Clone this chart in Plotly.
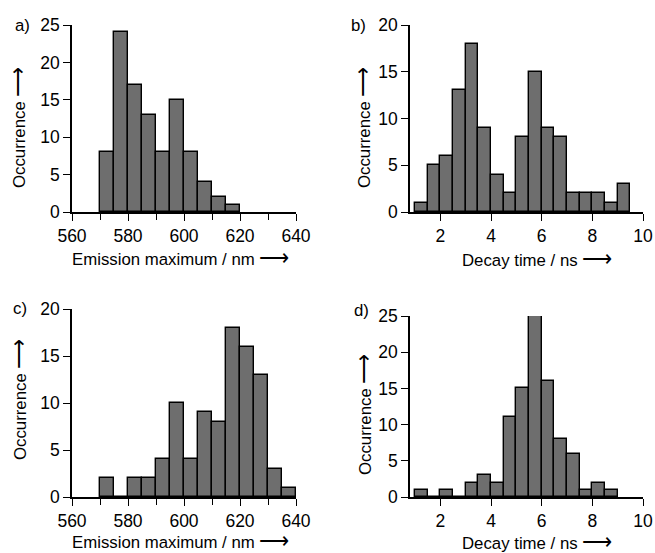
import plotly.graph_objects as go

# ---------------- data ----------------
# Panel a: emission maximum histogram (5 nm bins, centers)
a_centers = [572.5, 577.5, 582.5, 587.5, 592.5, 597.5, 602.5, 607.5, 612.5, 617.5]
a_counts = [8, 24, 17, 13, 8, 15, 8, 4, 2, 1]

# Panel b: decay time histogram (0.5 ns bins, centers)
b_centers = [1.25, 1.75, 2.25, 2.75, 3.25, 3.75, 4.25, 4.75, 5.25, 5.75,
             6.25, 6.75, 7.25, 7.75, 8.25, 8.75, 9.25]
b_counts = [1, 5, 6, 13, 18, 9, 4, 2, 8, 15, 9, 8, 2, 2, 2, 1, 3]

# Panel c: emission maximum histogram
c_centers = [572.5, 577.5, 582.5, 587.5, 592.5, 597.5, 602.5, 607.5, 612.5,
             617.5, 622.5, 627.5, 632.5, 637.5]
c_counts = [2, 0, 2, 2, 4, 10, 4, 9, 8, 18, 16, 13, 3, 1]

# Panel d: decay time histogram
d_centers = [1.25, 1.75, 2.25, 2.75, 3.25, 3.75, 4.25, 4.75, 5.25, 5.75,
             6.25, 6.75, 7.25, 7.75, 8.25, 8.75]
d_counts = [1, 0, 1, 0, 2, 3, 2, 11, 15, 26, 16, 8, 6, 1, 2, 1]

emission_ticks = [560, 580, 600, 620, 640]
emission_minor = [570, 590, 610, 630]
decay_ticks = [2, 4, 6, 8, 10]

panel_labels = ["a)", "b)", "c)", "d)"]
ARROW = "<span style='font-size:21px'>⟶</span>"
x_title_emission = "Emission maximum / nm " + ARROW
x_title_decay = "Decay time / ns " + ARROW
y_title = "Occurrence " + ARROW

# ---------------- layout helpers ----------------
W, H = 655, 553
FONT = "Liberation Sans, Arial, Helvetica, sans-serif"
BAR_COLOR = "#6e6e6e"
TICK_SIZE = 17.5
TITLE_SIZE = 16.8


def px_x(p):
    return p / W


def px_y(p):
    return 1 - p / H


fig = go.Figure()

panels = [
    (a_centers, a_counts, 5, [560, 640], [0, 25], 5, (72, 296), (25, 212), "emis"),
    (b_centers, b_counts, 0.5, [0.8, 10], [0, 20], 5, (410, 643), (25, 212), "decay"),
    (c_centers, c_counts, 5, [560, 640], [0, 20], 5, (72, 296), (309, 497), "emis"),
    (d_centers, d_counts, 0.5, [0.8, 10], [0, 25], 5, (410, 643), (316, 497), "decay"),
]

for i, (cx, cy, bw, xr, yr, ystep, (x0, x1), (y0, y1), kind) in enumerate(panels):
    n = "" if i == 0 else str(i + 1)
    fig.add_trace(go.Bar(
        x=cx, y=cy, width=bw,
        marker=dict(color=BAR_COLOR, line=dict(color="black", width=1.4)),
        xaxis="x" + n, yaxis="y" + n, showlegend=False,
    ))
    xa = dict(
        domain=[px_x(x0), px_x(x1)], range=xr, anchor="y" + n,
        showline=True, linecolor="black", linewidth=1.6,
        ticks="outside", ticklen=7, tickwidth=1.4, tickcolor="black",
        showgrid=False, zeroline=False, automargin=False,
        tickfont=dict(family=FONT, size=TICK_SIZE, color="black"),
        fixedrange=True,
    )
    if kind == "emis":
        xa.update(tickvals=emission_ticks,
                  minor=dict(tickvals=emission_minor, ticks="outside",
                             ticklen=6, tickwidth=1.4, tickcolor="black"))
    else:
        xa.update(tickvals=decay_ticks)
    ya = dict(
        domain=[px_y(y1), px_y(y0)], range=yr, anchor="x" + n,
        showline=True, linecolor="black", linewidth=1.6,
        ticks="outside", ticklen=7, tickwidth=1.4, tickcolor="black",
        showgrid=False, zeroline=False, dtick=ystep, tick0=0, automargin=False,
        tickfont=dict(family=FONT, size=TICK_SIZE, color="black"),
        fixedrange=True,
    )
    fig.update_layout(**{"xaxis" + n: xa, "yaxis" + n: ya})

ann = []
label_pos = [(22, 25), (358, 26), (20, 308), (361, 310)]
for lab, (lx, ly) in zip(panel_labels, label_pos):
    ann.append(dict(text=lab, x=px_x(lx), y=px_y(ly), xref="paper", yref="paper",
                    showarrow=False, font=dict(family=FONT, size=TITLE_SIZE, color="black"),
                    xanchor="center", yanchor="middle"))

xt_pos = [(x_title_emission, 180, 257), (x_title_decay, 537, 258),
          (x_title_emission, 180, 540), (x_title_decay, 537, 541)]
for t, tx, ty in xt_pos:
    ann.append(dict(text=t, x=px_x(tx), y=px_y(ty), xref="paper", yref="paper",
                    showarrow=False, font=dict(family=FONT, size=TITLE_SIZE, color="black"),
                    xanchor="center", yanchor="middle"))

yt_pos = [(18, 128), (363, 128), (18, 400), (363, 415)]
for tx, ty in yt_pos:
    ann.append(dict(text=y_title, x=px_x(tx), y=px_y(ty), xref="paper", yref="paper",
                    showarrow=False, textangle=-90,
                    font=dict(family=FONT, size=TITLE_SIZE, color="black"),
                    xanchor="center", yanchor="middle"))

fig.update_layout(
    width=W, height=H,
    margin=dict(l=0, r=0, t=0, b=0, autoexpand=False),
    paper_bgcolor="white", plot_bgcolor="white",
    bargap=0,
    annotations=ann,
    font=dict(family=FONT, color="black"),
)

fig.write_html(
    "out.html",
    config={"displayModeBar": False},
    post_script="document.body.style.margin='0';document.body.style.padding='0';"
                "document.documentElement.style.overflow='hidden';",
)
